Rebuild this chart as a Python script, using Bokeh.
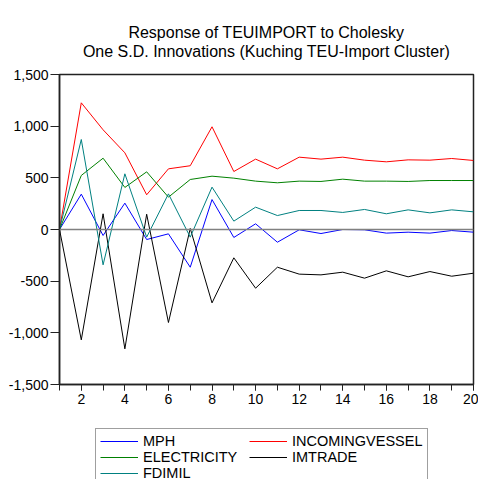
from bokeh.plotting import figure
from bokeh.layouts import column
from bokeh.models import (Legend, LegendItem, Span, SingleIntervalTicker, FixedTicker,
                          NumeralTickFormatter, Range1d, ColumnDataSource, Label)
from bokeh.embed import file_html
from bokeh.resources import INLINE

periods = list(range(1, 21))
mph = [0, 342, -58, 255, -97, -42, -365, 290, -77, 55, -123, -3, -39, 0, -3, -35, -26, -35, -10, -26]
incomingvessel = [0, 1226, 965, 742, 336, 587, 617, 994, 561, 681, 587, 700, 681, 700, 671, 655, 674, 671, 687, 668]
electricity = [0, 523, 690, 407, 558, 313, 484, 516, 497, 468, 452, 468, 465, 487, 468, 468, 465, 474, 474, 474]
imtrade = [0, -1068, 152, -1155, 148, -900, 10, -710, -274, -568, -365, -432, -439, -413, -471, -400, -458, -407, -452, -423]
fdimil = [0, 871, -342, 539, -74, 345, -74, 410, 81, 216, 135, 184, 184, 165, 194, 152, 190, 161, 190, 171]
y_ticks = [-1500, -1000, -500, 0, 500, 1000, 1500]
title_lines = ["Response of TEUIMPORT to Cholesky",
               "One S.D. Innovations (Kuching TEU-Import Cluster)"]

series = [
    ("MPH", mph, "#0000ff"),
    ("INCOMINGVESSEL", incomingvessel, "#ff0000"),
    ("ELECTRICITY", electricity, "#008000"),
    ("IMTRADE", imtrade, "#000000"),
    ("FDIMIL", fdimil, "#008080"),
]
legend_order = ["MPH", "INCOMINGVESSEL", "ELECTRICITY", "IMTRADE", "FDIMIL"]

FONT = "Liberation Sans"

# ---- title strip ----
ts = figure(width=478, height=64, output_backend="svg", toolbar_location=None,
            x_axis_type=None, y_axis_type=None,
            x_range=Range1d(1, 20), y_range=Range1d(64, 0),
            min_border_left=59, min_border_right=5, min_border_top=0, min_border_bottom=0)
ts.grid.visible = False
ts.outline_line_color = None
for txt, base in zip(title_lines, [32.3, 50.7]):
    ts.add_layout(Label(x=10.5, y=base, text=txt, text_align="center",
                        text_baseline="alphabetic", text_font=FONT,
                        text_font_size="16px", text_color="#000000"))

# ---- main chart ----
p = figure(width=478, height=354, output_backend="svg", toolbar_location=None,
           x_range=Range1d(1, 20), y_range=Range1d(-1500, 1500),
           min_border_left=59, min_border_right=5, min_border_top=10, min_border_bottom=34)
p.title.visible = False
p.xgrid.visible = False
p.ygrid.visible = False
p.outline_line_color = "#222222"
p.outline_line_width = 1.5

p.add_layout(Span(location=0, dimension="width", line_color="#808080", line_width=1.5))

for name, vals, col in series:
    src = ColumnDataSource(dict(x=periods, y=vals))
    p.line("x", "y", source=src, line_color=col, line_width=1)

p.xaxis.ticker = SingleIntervalTicker(interval=2, num_minor_ticks=2)
p.yaxis.ticker = FixedTicker(ticks=y_ticks)
p.yaxis.formatter = NumeralTickFormatter(format="0,0")
for ax in (p.xaxis[0], p.yaxis[0]):
    ax.axis_line_color = "#222222"
    ax.axis_line_width = 1.5
    ax.major_tick_line_color = "#222222"
    ax.minor_tick_line_color = "#222222"
    ax.major_tick_in = 0
    ax.minor_tick_in = 0
    ax.major_label_text_font = FONT
    ax.major_label_text_font_size = "14px"
    ax.major_label_text_color = "#000000"
p.xaxis.major_tick_out = 6
p.xaxis.minor_tick_out = 6
p.xaxis.major_label_standoff = 3
p.yaxis.major_tick_out = 9
p.yaxis.minor_tick_line_color = None
p.yaxis.major_label_standoff = 2

# ---- legend strip ----
lg = figure(width=478, height=61, output_backend="svg", toolbar_location=None,
            x_axis_type=None, y_axis_type=None,
            x_range=Range1d(100, 101), y_range=Range1d(100, 101),
            min_border_left=59, min_border_right=5, min_border_top=0, min_border_bottom=0)
lg.grid.visible = False
lg.outline_line_color = None
rends = {}
for name, vals, col in series:
    src = ColumnDataSource(dict(x=periods, y=vals))
    rends[name] = lg.line("x", "y", source=src, line_color=col, line_width=1)

items = [LegendItem(label=n, renderers=[rends[n]]) for n in legend_order]
legend = Legend(items=items, ncols=2, orientation="horizontal", location=(36, -7))
legend.label_text_font = FONT
legend.label_text_font_size = "14.5px"
legend.label_text_color = "#000000"
legend.label_height = 14
legend.glyph_height = 14
legend.glyph_width = 38
legend.label_standoff = 5
legend.label_width = 106
legend.spacing = 0
legend.padding = 4
legend.margin = 0
legend.border_line_color = "#404040"
legend.border_line_width = 1
legend.background_fill_alpha = 1
lg.add_layout(legend, "center")

layout = column(ts, p, lg, spacing=0)
open("out.html", "w").write(file_html(layout, INLINE))
